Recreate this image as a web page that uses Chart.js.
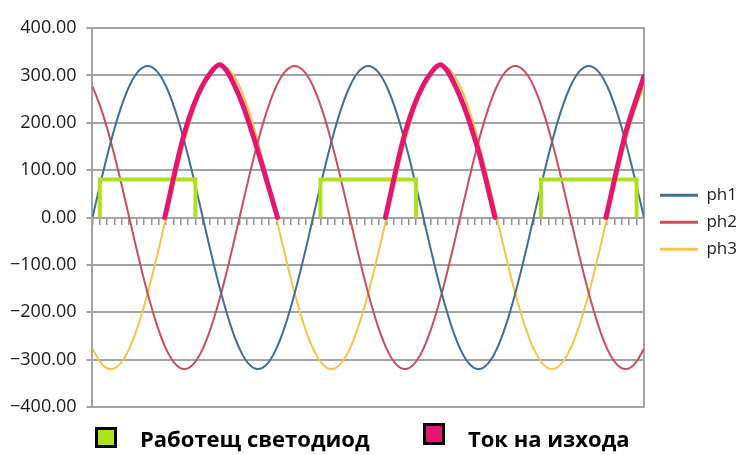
<!DOCTYPE html>
<html lang="bg">
<head>
<meta charset="UTF-8">
<title>ph1 ph2 ph3</title>
<script src="https://cdn.jsdelivr.net/npm/chart.js"></script>
<style>
  body { margin: 0; background: #fff; }
  canvas { display: block; }
</style>
</head>
<body>
<canvas id="phaseChart" width="747" height="455"></canvas>
<script>
// angle (degrees) of each sample along the x axis
const angles = [0,15,30,45,60,75,90,105,120,135,150,165,180,195,210,225,240,255,270,285,300,315,330,345,
  360,375,390,405,420,435,450,465,480,495,510,525,540,555,570,585,600,615,630,645,660,675,690,705,
  720,735,750,765,780,795,810,825,840,855,870,885,900];

const ph1 = [0,83,160,226,277,309,320,309,277,226,160,83,0,-83,-160,-226,-277,-309,-320,-309,-277,-226,-160,-83,
  0,83,160,226,277,309,320,309,277,226,160,83,0,-83,-160,-226,-277,-309,-320,-309,-277,-226,-160,-83,
  0,83,160,226,277,309,320,309,277,226,160,83,0];
const ph2 = [277,226,160,83,0,-83,-160,-226,-277,-309,-320,-309,-277,-226,-160,-83,0,83,160,226,277,309,320,309,
  277,226,160,83,0,-83,-160,-226,-277,-309,-320,-309,-277,-226,-160,-83,0,83,160,226,277,309,320,309,
  277,226,160,83,0,-83,-160,-226,-277,-309,-320,-309,-277];
const ph3 = [-277,-309,-320,-309,-277,-226,-160,-83,0,83,160,226,277,309,320,309,277,226,160,83,0,-83,-160,-226,
  -277,-309,-320,-309,-277,-226,-160,-83,0,83,160,226,277,309,320,309,277,226,160,83,0,-83,-160,-226,
  -277,-309,-320,-309,-277,-226,-160,-83,0,83,160,226,277];

// LED on / off angles and level
const ledOn = [12, 372, 732];
const ledOff = [168, 528, 888];
const ledLevel = 80;

// output current pulses (null = gap between pulses)
const currentX = [118,150,180,209,240,270,302, 390, 478,510,540,569,600,630,657, 750, 838,870,900];
const currentY = [0,178,280,322,255,140,0, null, 0,178,280,322,255,140,0, null, 0,178,298];

const yTicks = [-400,-300,-200,-100,0,100,200,300,400];

const gridGray = '#a3a3a3';

const toPoints = (xs, ys) => xs.map((x, i) => ({x: x, y: ys[i]}));

const ledPoints = [];
ledOn.forEach((on, i) => {
  if (i > 0) ledPoints.push({x: (ledOff[i - 1] + on) / 2, y: null});
  ledPoints.push({x: on, y: 0}, {x: on, y: ledLevel}, {x: ledOff[i], y: ledLevel}, {x: ledOff[i], y: 0});
});

const bottomLegend = {
  id: 'bottomLegend',
  afterDraw(chart) {
    const ctx = chart.ctx;
    const items = [
      {ds: chart.data.datasets[3], box: [95, 427, 22, 21], textX: 140},
      {ds: chart.data.datasets[4], box: [423, 423, 22, 22], textX: 468}
    ];
    ctx.save();
    items.forEach(it => {
      const [bx, by, bw, bh] = it.box;
      ctx.fillStyle = it.ds.borderColor;
      ctx.fillRect(bx, by, bw, bh);
      ctx.lineWidth = 3;
      ctx.strokeStyle = '#000';
      ctx.strokeRect(bx + 1.5, by + 1.5, bw - 3, bh - 3);
      ctx.fillStyle = '#000';
      ctx.font = 'bold 22px "Open Sans"';
      ctx.textBaseline = 'alphabetic';
      ctx.fillText(it.ds.label, it.textX, 447);
    });
    ctx.restore();
  }
};

new Chart(document.getElementById('phaseChart'), {
  type: 'line',
  data: {
    datasets: [
      {label: 'ph1', data: toPoints(angles, ph1), borderColor: '#3f6e98', borderWidth: 2, tension: 0.4, order: 3},
      {label: 'ph2', data: toPoints(angles, ph2), borderColor: '#c94f5c', borderWidth: 2, tension: 0.4, order: 3},
      {label: 'ph3', data: toPoints(angles, ph3), borderColor: '#f3c649', borderWidth: 2, tension: 0.4, order: 3},
      {label: 'Работещ светодиод', data: ledPoints, borderColor: '#afe21c', borderWidth: 4, tension: 0, order: 2},
      {label: 'Ток на изхода', data: toPoints(currentX, currentY), borderColor: '#e6156f', borderWidth: 5,
        tension: 0.3, borderCapStyle: 'round', order: 1}
    ]
  },
  options: {
    responsive: false,
    animation: false,
    spanGaps: false,
    elements: {point: {radius: 0}},
    layout: {padding: {left: 0, top: 28, right: 0, bottom: 48}},
    plugins: {
      tooltip: {enabled: false},
      legend: {
        position: 'right',
        fullSize: false,
        title: {display: true, text: ' ', padding: 0, font: {size: 8}},
        labels: {
          boxWidth: 38,
          boxHeight: 3,
          padding: 10,
          color: '#222',
          font: {family: '"Open Sans"', size: 17},
          generateLabels: chart => chart.data.datasets.slice(0, 3).map((ds, i) => ({
            text: ds.label, fillStyle: ds.borderColor, strokeStyle: ds.borderColor,
            lineWidth: 0, datasetIndex: i, fontColor: '#222'
          }))
        }
      }
    },
    scales: {
      x: {
        type: 'linear',
        position: {y: 0},
        min: 0,
        max: 900,
        ticks: {display: false, stepSize: 12, autoSkip: false},
        grid: {color: 'transparent', tickColor: '#8f8f8f', tickLength: 7, lineWidth: 1.5},
        border: {display: false}
      },
      y: {
        min: -400,
        max: 400,
        afterBuildTicks: axis => { axis.ticks = yTicks.map(v => ({value: v})); },
        ticks: {
          color: '#1a1a1a',
          padding: 10,
          font: {family: '"Open Sans"', size: 18},
          callback: v => (v < 0 ? '\u2212' + Math.abs(v).toFixed(2) : v.toFixed(2))
        },
        grid: {color: gridGray, lineWidth: 2, tickLength: 6, tickColor: gridGray},
        border: {color: gridGray, width: 2}
      },
      yRight: {
        position: 'right',
        min: -400,
        max: 400,
        ticks: {display: false},
        grid: {drawOnChartArea: false, tickLength: 6, tickColor: 'transparent'},
        border: {color: gridGray, width: 2}
      }
    }
  },
  plugins: [bottomLegend]
});
</script>
</body>
</html>
